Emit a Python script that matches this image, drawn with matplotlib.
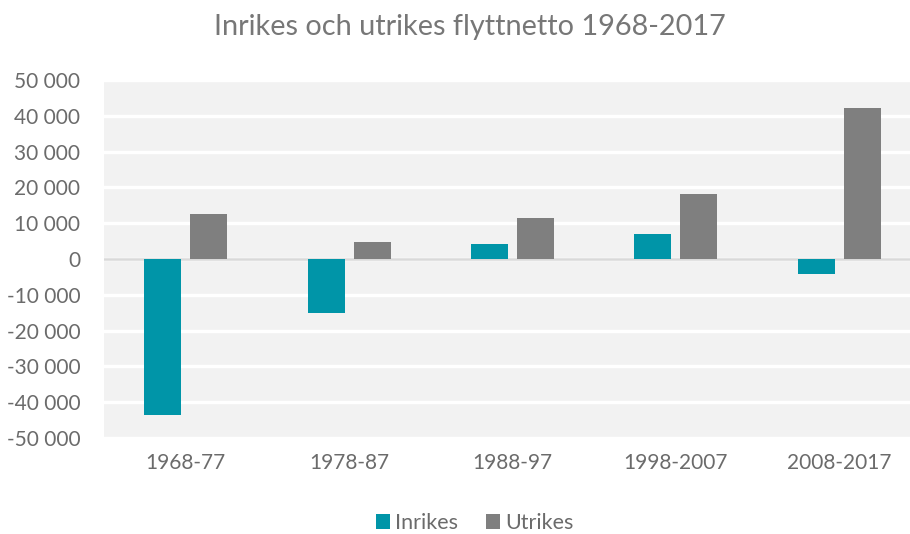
import matplotlib
matplotlib.use("Agg")
import matplotlib.pyplot as plt
import numpy as np
from matplotlib.ticker import FuncFormatter

categories = ["1968-77", "1978-87", "1988-97", "1998-2007", "2008-2017"]
inrikes = [-43600, -15000, 4200, 6900, -4200]
utrikes = [12500, 4700, 11400, 18050, 42200]
yticks = list(range(-50000, 50001, 10000))

plt.rcParams['font.family'] = ['Lato', 'DejaVu Sans']

fig = plt.figure(figsize=(9.10, 5.34), dpi=100)
ax = fig.add_axes([104/910, 1-438/534, (921-104)/910, (438-80)/534])
ax.set_facecolor('#f2f2f2')

x = np.arange(len(categories))
w = 0.227
off = 0.141
ax.bar(x - off, inrikes, w, color='#0095a8', label='Inrikes', zorder=3)
ax.bar(x + off, utrikes, w, color='#7f7f7f', label='Utrikes', zorder=3)

ax.set_xlim(-0.5, len(categories) - 0.5)
ax.set_ylim(-50000, 50000)
ax.set_yticks(yticks)
ax.yaxis.set_major_formatter(FuncFormatter(lambda v, p: f"{int(v):,}".replace(",", " ")))
ax.set_xticks(x)
ax.set_xticklabels(categories)
ax.grid(axis='y', color='white', linewidth=2.4, zorder=1)
ax.axhline(0, color='#d9d9d9', linewidth=1.8, zorder=2)
for s in ax.spines.values():
    s.set_visible(False)
ax.tick_params(axis='both', length=0, labelsize=15, colors='#6b6b6b')
ax.tick_params(axis='x', pad=11)
ax.tick_params(axis='y', pad=17)

fig.text(470/910, 1-27/534, "Inrikes och utrikes flyttnetto 1968-2017", ha='center', va='center',
         fontsize=20.8, color='#777777')

leg = fig.legend(loc='center', bbox_to_anchor=(475/910, 1-523/534), ncol=2, frameon=False,
                 fontsize=15.5, handlelength=0.65, handleheight=0.65, handletextpad=0.25,
                 columnspacing=1.3)
for t in leg.get_texts():
    t.set_color('#6b6b6b')

fig.savefig("out.png", dpi=100)
